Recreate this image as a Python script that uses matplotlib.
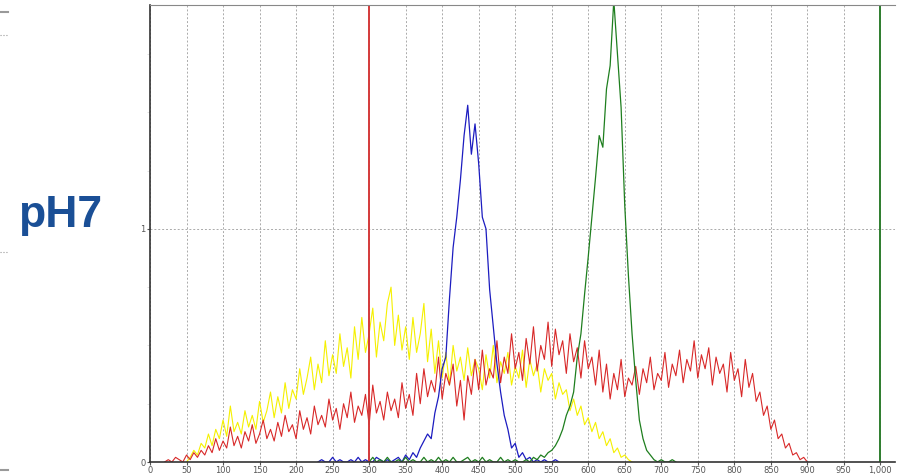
import numpy as np
import matplotlib
matplotlib.use("Agg")
import matplotlib.pyplot as plt
from matplotlib.lines import Line2D

# wavelength sample grids (step 5)
yellow_x = np.arange(50, 661, 5)
red_x = np.arange(20, 901, 5)
blue_x = np.arange(230, 561, 5)
green_x = np.arange(300, 721, 5)

yellow_y = [0.0, 0.02, 0.05, 0.03, 0.08, 0.06, 0.12, 0.07, 0.14, 0.10,
            0.18, 0.11, 0.24, 0.13, 0.17, 0.12, 0.22, 0.15, 0.20, 0.14,
            0.26, 0.17, 0.22, 0.30, 0.19, 0.28, 0.21, 0.34, 0.23, 0.31,
            0.27, 0.40, 0.29, 0.36, 0.45, 0.31, 0.42, 0.34, 0.52, 0.37,
            0.46, 0.38, 0.55, 0.41, 0.49, 0.36, 0.58, 0.44, 0.62, 0.47,
            0.55, 0.66, 0.45, 0.60, 0.52, 0.68, 0.75, 0.50, 0.63, 0.48,
            0.58, 0.44, 0.62, 0.47, 0.55, 0.68, 0.43, 0.57, 0.38, 0.52,
            0.36, 0.47, 0.33, 0.50, 0.39, 0.45, 0.35, 0.49, 0.37, 0.44,
            0.40, 0.31, 0.46, 0.36, 0.50, 0.34, 0.43, 0.38, 0.47, 0.33,
            0.41, 0.36, 0.48, 0.32, 0.44, 0.37, 0.42, 0.30, 0.40, 0.35,
            0.38, 0.27, 0.34, 0.29, 0.31, 0.22, 0.27, 0.20, 0.24, 0.16,
            0.19, 0.13, 0.17, 0.10, 0.13, 0.07, 0.10, 0.04, 0.06, 0.02,
            0.03, 0.01, 0.0]

red_y = [0.0, 0.01, 0.0, 0.02, 0.01, 0.0, 0.03, 0.01, 0.04, 0.02,
         0.05, 0.03, 0.07, 0.04, 0.10, 0.05, 0.09, 0.06, 0.15, 0.07,
         0.11, 0.06, 0.13, 0.09, 0.16, 0.08, 0.12, 0.18, 0.10, 0.14,
         0.09, 0.17, 0.11, 0.20, 0.13, 0.16, 0.10, 0.22, 0.14, 0.19,
         0.12, 0.24, 0.16, 0.20, 0.15, 0.27, 0.18, 0.23, 0.14, 0.25,
         0.19, 0.30, 0.17, 0.24, 0.20, 0.29, 0.16, 0.33, 0.21, 0.26,
         0.18, 0.30, 0.22, 0.27, 0.19, 0.34, 0.23, 0.29, 0.20, 0.38,
         0.25, 0.40, 0.28, 0.35, 0.30, 0.45, 0.27, 0.38, 0.33, 0.42,
         0.24, 0.35, 0.18, 0.37, 0.29, 0.44, 0.31, 0.48, 0.33, 0.40,
         0.36, 0.52, 0.34, 0.45, 0.38, 0.55, 0.40, 0.47, 0.35, 0.53,
         0.42, 0.58, 0.39, 0.50, 0.44, 0.60, 0.41, 0.57, 0.46, 0.52,
         0.38, 0.55, 0.43, 0.49, 0.36, 0.52, 0.40, 0.45, 0.33, 0.48,
         0.30, 0.42, 0.27, 0.38, 0.31, 0.44, 0.28, 0.36, 0.33, 0.41,
         0.29, 0.40, 0.34, 0.45, 0.31, 0.38, 0.35, 0.47, 0.32, 0.42,
         0.37, 0.48, 0.34, 0.44, 0.39, 0.52, 0.36, 0.46, 0.40, 0.49,
         0.33, 0.45, 0.38, 0.42, 0.30, 0.47, 0.35, 0.40, 0.28, 0.44,
         0.32, 0.38, 0.26, 0.30, 0.20, 0.24, 0.14, 0.18, 0.10, 0.12,
         0.06, 0.08, 0.03, 0.04, 0.01, 0.02, 0.0]

blue_y = [0.0, 0.01, 0.0, 0.0, 0.02, 0.0, 0.01, 0.0, 0.0, 0.01,
          0.0, 0.02, 0.0, 0.01, 0.0, 0.0, 0.02, 0.01, 0.0, 0.01,
          0.0, 0.01, 0.02, 0.0, 0.03, 0.01, 0.04, 0.02, 0.06, 0.09,
          0.12, 0.10, 0.21, 0.28, 0.40, 0.45, 0.70, 0.92, 1.05, 1.21,
          1.40, 1.53, 1.32, 1.45, 1.28, 1.05, 1.00, 0.74, 0.58, 0.42,
          0.30, 0.20, 0.14, 0.06, 0.08, 0.02, 0.04, 0.01, 0.02, 0.0,
          0.01, 0.0, 0.01, 0.0, 0.0, 0.01, 0.0]

green_y = [0.0, 0.02, 0.0, 0.01, 0.0, 0.02, 0.0, 0.0, 0.01, 0.0,
           0.02, 0.0, 0.01, 0.0, 0.0, 0.02, 0.0, 0.01, 0.0, 0.02,
           0.0, 0.01, 0.0, 0.02, 0.0, 0.0, 0.01, 0.02, 0.0, 0.01,
           0.0, 0.02, 0.0, 0.01, 0.0, 0.0, 0.02, 0.0, 0.01, 0.0,
           0.01, 0.0, 0.0, 0.01, 0.0, 0.02, 0.01, 0.03, 0.02, 0.04,
           0.05, 0.07, 0.10, 0.14, 0.20, 0.24, 0.30, 0.45, 0.55, 0.72,
           0.88, 1.05, 1.22, 1.40, 1.35, 1.60, 1.70, 1.98, 1.75, 1.52,
           1.10, 0.80, 0.55, 0.35, 0.18, 0.10, 0.05, 0.03, 0.01, 0.0,
           0.01, 0.0, 0.0, 0.01, 0.0]

marker_lines = [300, 1000]
marker_colors = ["#d43a3a", "#2e7d2e"]
xticks = list(range(0, 1001, 50))
xtick_labels = [str(t) if t < 1000 else "1,000" for t in xticks]

fig = plt.figure(figsize=(9.03, 4.74), dpi=100)
ax = fig.add_axes([150 / 903, 12 / 474, 745 / 903, 457 / 474])

ax.plot(yellow_x, yellow_y, color="#f5f000", lw=0.8)
ax.plot(red_x, red_y, color="#d82828", lw=0.8)
ax.plot(blue_x, blue_y, color="#1c1cc0", lw=0.9)
ax.plot(green_x, green_y, color="#1e7e1e", lw=0.9)
for xv, c in zip(marker_lines, marker_colors):
    ax.axvline(xv, color=c, lw=1.4)

ax.set_xlim(0, 1020)
ax.set_ylim(0, 1.96)
ax.set_xticks(xticks)
ax.set_xticklabels(xtick_labels)
ax.set_yticks([0, 1])
ax.set_yticks([0.25, 0.5, 0.75, 1.25, 1.5, 1.75], minor=True)
ax.tick_params(axis="both", which="major", labelsize=6, colors="#555555", length=2, pad=1)
ax.tick_params(axis="y", which="minor", length=2, colors="#dddddd")
ax.grid(True, axis="x", linestyle=(0, (2, 2)), color="#aaaaaa", lw=0.7)
ax.axhline(1, linestyle=(0, (2, 2)), color="#aaaaaa", lw=0.7, zorder=0)

ax.spines["right"].set_visible(False)
ax.spines["top"].set_color("#888888")
ax.spines["left"].set_color("#333333")
ax.spines["bottom"].set_color("#333333")
ax.spines["bottom"].set_linewidth(1.2)
ax.spines["left"].set_linewidth(1.2)

fig.text(60 / 903, 1 - 215 / 474, "pH7", color="#1a4f96", fontsize=32,
         fontweight="bold", family="Liberation Sans", ha="center", va="center")

# bits of a neighbouring panel on the left edge
for yp, ls in [(12, "-"), (35, ":"), (252, ":"), (470, "-")]:
    fig.add_artist(Line2D([0, 8 / 903], [1 - yp / 474] * 2, color="#999999",
                          lw=1.5 if ls == "-" else 0.8, linestyle=ls))

fig.savefig("out.png", dpi=100)
